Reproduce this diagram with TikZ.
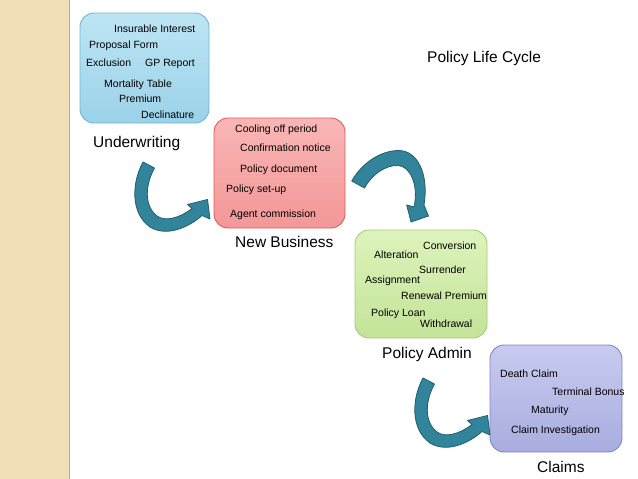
\documentclass[tikz,border=0pt]{standalone}
\usepackage{fontspec}
\setmainfont{Liberation Sans}
\begin{document}
\begin{tikzpicture}[x=1pt,y=-1pt,
  txt/.style={anchor=base west,inner sep=0pt,font=\fontsize{10.5}{12}\selectfont},
  lbl/.style={anchor=base west,inner sep=0pt,font=\fontsize{15.5}{18}\selectfont},
  stagebox/.style={rounded corners=14pt,line width=0.9pt},
  curvearrow/.style={fill=arrowfill,draw=arrowline,line width=0.8pt,line join=round}]
\definecolor{strip}{HTML}{F1DFB6}
\definecolor{stripline}{HTML}{B8AC90}
\definecolor{arrowfill}{HTML}{31849A}
\definecolor{arrowline}{HTML}{235E6E}
\definecolor{bluetop}{HTML}{BDE5F4}
\definecolor{bluebot}{HTML}{9BD2E9}
\definecolor{blueline}{HTML}{6FB8D5}
\definecolor{pinktop}{HTML}{F9B6B6}
\definecolor{pinkbot}{HTML}{F39797}
\definecolor{pinkline}{HTML}{E05C5C}
\definecolor{greentop}{HTML}{DEF3BC}
\definecolor{greenbot}{HTML}{C3E498}
\definecolor{greenline}{HTML}{A0CF70}
\definecolor{lavtop}{HTML}{C8CBEF}
\definecolor{lavbot}{HTML}{A8ADDF}
\definecolor{lavline}{HTML}{8288C4}
\useasboundingbox (0,0) rectangle (638,479);
\fill[white] (0,0) rectangle (638,479);
\fill[strip] (0,0) rectangle (69,479);
\draw[stripline,line width=1.5pt] (69.5,0) -- (69.5,479);
% boxes
\draw[stagebox,draw=blueline,top color=bluetop,bottom color=bluebot] (80,13) rectangle (209,123);
\draw[stagebox,draw=pinkline,top color=pinktop,bottom color=pinkbot] (214,118) rectangle (345,228);
\draw[stagebox,draw=greenline,top color=greentop,bottom color=greenbot] (355,230) rectangle (487,338);
\draw[stagebox,draw=lavline,top color=lavtop,bottom color=lavbot] (490,345) rectangle (622,452);
% underwriting texts
\node[txt] (u1) at (114,32.5) {Insurable Interest};
\node[txt] (u2) at (89,48.5) {Proposal Form};
\node[txt] (u3) at (86,66.8) {Exclusion};
\node[txt] (u4) at (145,66.8) {GP Report};
\node[txt] (u5) at (104,87.5) {Mortality Table};
\node[txt] (u6) at (119,102.5) {Premium};
\node[txt] (u7) at (141,118.5) {Declinature};
\node[lbl] (ul) at (93,147) {Underwriting};
% new business texts
\node[txt] (n1) at (235,132.5) {Cooling off period};
\node[txt] (n2) at (240,151.8) {Confirmation notice};
\node[txt] (n3) at (240,172.5) {Policy document};
\node[txt] (n4) at (226,192.5) {Policy set-up};
\node[txt] (n5) at (230,217.8) {Agent commission};
\node[lbl] (nl) at (235,247) {New Business};
% policy admin texts
\node[txt] (p1) at (423,249.5) {Conversion};
\node[txt] (p2) at (374,258.5) {Alteration};
\node[txt] (p3) at (419,273.5) {Surrender};
\node[txt] (p4) at (365,283.5) {Assignment};
\node[txt] (p5) at (401,299.5) {Renewal Premium};
\node[txt] (p6) at (371,316.5) {Policy Loan};
\node[txt] (p7) at (420,327.5) {Withdrawal};
\node[lbl] (pl) at (382,358) {Policy Admin};
% claims texts
\node[txt] (c1) at (500,377.8) {Death Claim};
\node[txt] (c2) at (552,395) {Terminal Bonus};
\node[txt] (c3) at (531,413.8) {Maturity};
\node[txt] (c4) at (511,433.8) {Claim Investigation};
\node[lbl] (cl) at (537,472) {Claims};
% title
\node[lbl] (title) at (427,62.5) {Policy Life Cycle};
% curved arrows
\foreach \dx/\dy in {0/0,280/216}{
\draw[curvearrow,shift={(\dx,\dy)}] (143,162) .. controls (132,182) and (130,213) .. (150,227)
  .. controls (166,237) and (188,228) .. (202,215.5)
  -- (210,219) -- (207.5,199.5) -- (187.5,204.5) -- (192,208.5)
  .. controls (180,218) and (165,222) .. (157,216)
  .. controls (144,206) and (145,185) .. (154.5,168) -- cycle;
}
\draw[curvearrow] (351.7,181) .. controls (362,163) and (380,151) .. (398,150.5)
  .. controls (418,150) and (429,175) .. (424,205)
  -- (428.5,216) -- (411,222) -- (406.7,205) -- (414,207)
  .. controls (419,185) and (410,166) .. (398,165.5)
  .. controls (386,165) and (372,174) .. (364.5,188) -- cycle;
\end{tikzpicture}
\end{document}
